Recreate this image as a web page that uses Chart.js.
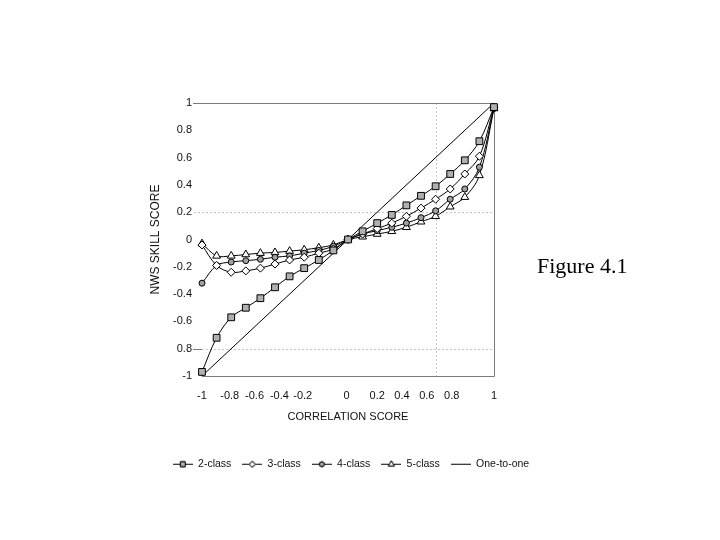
<!DOCTYPE html>
<html>
<head>
<meta charset="utf-8">
<title>Figure 4.1</title>
<script src="https://cdn.jsdelivr.net/npm/chart.js@4.4.1/dist/chart.umd.min.js"></script>
<style>
  body { margin: 0; background: #fff; }
  #wrap { position: relative; width: 720px; height: 540px; }
  #fig { position: absolute; left: 537px; top: 253px; font-family: "Liberation Serif", "Times New Roman", serif; font-size: 22px; color: #000; }
</style>
</head>
<body>
<div id="wrap">
  <canvas id="chart" width="720" height="540"></canvas>
  <div id="fig">Figure 4.1</div>
</div>
<script>
// correlation score (x) for every marker
const corr = [-1, -0.9, -0.8, -0.7, -0.6, -0.5, -0.4, -0.3, -0.2, -0.1, 0,
              0.1, 0.2, 0.3, 0.4, 0.5, 0.6, 0.7, 0.8, 0.9, 1];
const class2 = [-0.97, -0.72, -0.57, -0.50, -0.43, -0.35, -0.27, -0.21, -0.15, -0.08, 0.0,
                0.06, 0.12, 0.18, 0.25, 0.32, 0.39, 0.48, 0.58, 0.72, 0.97];
const class3 = [-0.04, -0.19, -0.24, -0.23, -0.21, -0.18, -0.15, -0.13, -0.10, -0.07, 0.0,
                0.04, 0.08, 0.12, 0.17, 0.23, 0.295, 0.37, 0.48, 0.61, 0.97];
const class4 = [-0.32, -0.19, -0.165, -0.155, -0.145, -0.13, -0.12, -0.10, -0.08, -0.05, 0.0,
                0.04, 0.065, 0.09, 0.12, 0.16, 0.21, 0.295, 0.37, 0.53, 0.96];
const class5 = [-0.03, -0.12, -0.12, -0.11, -0.10, -0.095, -0.085, -0.075, -0.06, -0.04, 0.0,
                0.02, 0.04, 0.06, 0.09, 0.13, 0.17, 0.24, 0.31, 0.47, 0.96];
const oneX = [-1, 1];
const oneY = [-1, 1];

const seriesNames = ['2-class', '3-class', '4-class', '5-class', 'One-to-one'];

// tick labels as printed on the figure
const xTickValues = [-1, -0.81, -0.64, -0.47, -0.31, -0.01, 0.2, 0.37, 0.54, 0.71, 1];
const xTickLabels = ['-1', '-0.8', '-0.6', '-0.4', '-0.2', '0', '0.2', '0.4', '0.6', '0.8', '1'];
const yTickValues = [-1, -0.8, -0.6, -0.4, -0.2, 0, 0.2, 0.4, 0.6, 0.8, 1];
const yTickLabels = ['-1', '0.8', '-0.6', '-0.4', '-0.2', '0', '0.2', '0.4', '0.6', '0.8', '1'];
const gridX = [0.6];
const gridY = [0.2, -0.8];
const tickMarksY = [1, -0.8];

const pts = (xs, ys) => xs.map((x, i) => ({ x: x, y: ys[i] }));

// small legend symbol: line with the marker in the middle
function makeSymbol(style, fill, r) {
  const c = document.createElement('canvas');
  c.width = 20; c.height = 12;
  const g = c.getContext('2d');
  g.strokeStyle = '#000'; g.lineWidth = 1;
  g.beginPath(); g.moveTo(0, 6.5); g.lineTo(20, 6.5); g.stroke();
  if (style) {
    g.fillStyle = fill;
    Chart.helpers.drawPoint(g, { pointStyle: style, radius: r, borderWidth: 1, rotation: 0 }, 10, 6.5);
    g.fill(); g.stroke();
  }
  return c;
}

const framePlugin = {
  id: 'frame',
  beforeDatasetsDraw(chart) {
    const { ctx, chartArea: a, scales: { x, y } } = chart;
    ctx.save();
    ctx.lineWidth = 1;
    ctx.strokeStyle = '#c4c4c4';
    ctx.setLineDash([2, 2]);
    ctx.beginPath();
    gridY.forEach(v => {
      const py = Math.round(y.getPixelForValue(v)) + 0.5;
      ctx.moveTo(a.left - 8, py); ctx.lineTo(a.right, py);
    });
    gridX.forEach(v => {
      const px = Math.round(x.getPixelForValue(v)) + 0.5;
      ctx.moveTo(px, a.top); ctx.lineTo(px, a.bottom);
    });
    ctx.stroke();
    ctx.setLineDash([]);
    ctx.strokeStyle = '#7a7a7a';
    ctx.beginPath();
    tickMarksY.forEach(v => {
      const py = Math.round(y.getPixelForValue(v)) + 0.5;
      ctx.moveTo(a.left - 9, py); ctx.lineTo(a.left, py);
    });
    const t = Math.round(a.top) + 0.5, b = Math.round(a.bottom) + 0.5, r = Math.round(a.right) + 0.5;
    ctx.moveTo(a.left, t); ctx.lineTo(r, t); ctx.lineTo(r, b); ctx.lineTo(a.left, b);
    ctx.stroke();
    ctx.restore();
  }
};

const markerLine = (label, data, style, fill, r) => ({
  label: label,
  data: data,
  borderColor: '#000',
  borderWidth: 1,
  tension: 0.35,
  pointStyle: style,
  pointRadius: r,
  pointBackgroundColor: fill,
  pointBorderColor: '#000',
  pointBorderWidth: 1,
  clip: false
});

const symbols = [
  makeSymbol('rect', '#b0b0b0', 3.5),
  makeSymbol('rectRot', '#fff', 3),
  makeSymbol('circle', '#a0a0a0', 2.5),
  makeSymbol('triangle', '#fff', 3.5),
  makeSymbol(null)
];

Chart.defaults.font.family = '"Liberation Sans", Arial, sans-serif';
Chart.defaults.color = '#111';

new Chart(document.getElementById('chart'), {
  type: 'line',
  data: {
    datasets: [
      markerLine(seriesNames[0], pts(corr, class2), 'rect', '#b0b0b0', 4.8),
      markerLine(seriesNames[1], pts(corr, class3), 'rectRot', '#fff', 4),
      markerLine(seriesNames[2], pts(corr, class4), 'circle', '#a0a0a0', 3),
      markerLine(seriesNames[3], pts(corr, class5), 'triangle', '#fff', 4.5),
      { label: seriesNames[4], data: pts(oneX, oneY), borderColor: '#000', borderWidth: 1,
        pointRadius: 0, tension: 0, clip: false }
    ]
  },
  options: {
    responsive: false,
    animation: false,
    layout: { padding: { left: 100, right: 118, top: 103, bottom: 61 } },
    plugins: {
      tooltip: { enabled: false },
      legend: {
        position: 'bottom',
        labels: {
          usePointStyle: true,
          pointStyleWidth: 20,
          padding: 11,
          color: '#111',
          font: { size: 10.5 },
          generateLabels: chart => Chart.defaults.plugins.legend.labels.generateLabels(chart)
            .map((l, i) => Object.assign(l, { pointStyle: symbols[i] }))
        }
      }
    },
    scales: {
      x: {
        type: 'linear', min: -1, max: 1,
        grid: { display: false, drawTicks: false },
        border: { display: false },
        afterBuildTicks: s => { s.ticks = xTickValues.map(v => ({ value: v })); },
        afterFit: s => { s.height = 71.5; },
        ticks: { autoSkip: false, maxRotation: 0, padding: 13, font: { size: 11 },
                 callback: (v, i) => xTickLabels[i] },
        title: { display: true, text: 'CORRELATION SCORE', font: { size: 11 },
                 padding: { top: 0, bottom: 24 } }
      },
      y: {
        type: 'linear', min: -1, max: 1,
        grid: { display: false, drawTicks: false },
        border: { display: false },
        afterBuildTicks: s => { s.ticks = yTickValues.map(v => ({ value: v })); },
        afterFit: s => { s.width = 102; },
        ticks: { padding: 10, font: { size: 11 }, callback: (v, i) => yTickLabels[i] },
        title: { display: true, text: 'NWS SKILL SCORE', font: { size: 12 },
                 padding: { top: 48, bottom: 0 } }
      },
      yRight: {
        position: 'right', display: true,
        grid: { display: false, drawTicks: false },
        border: { display: false },
        ticks: { display: false },
        afterFit: s => { s.width = 108; }
      }
    }
  },
  plugins: [framePlugin]
});
</script>
</body>
</html>
